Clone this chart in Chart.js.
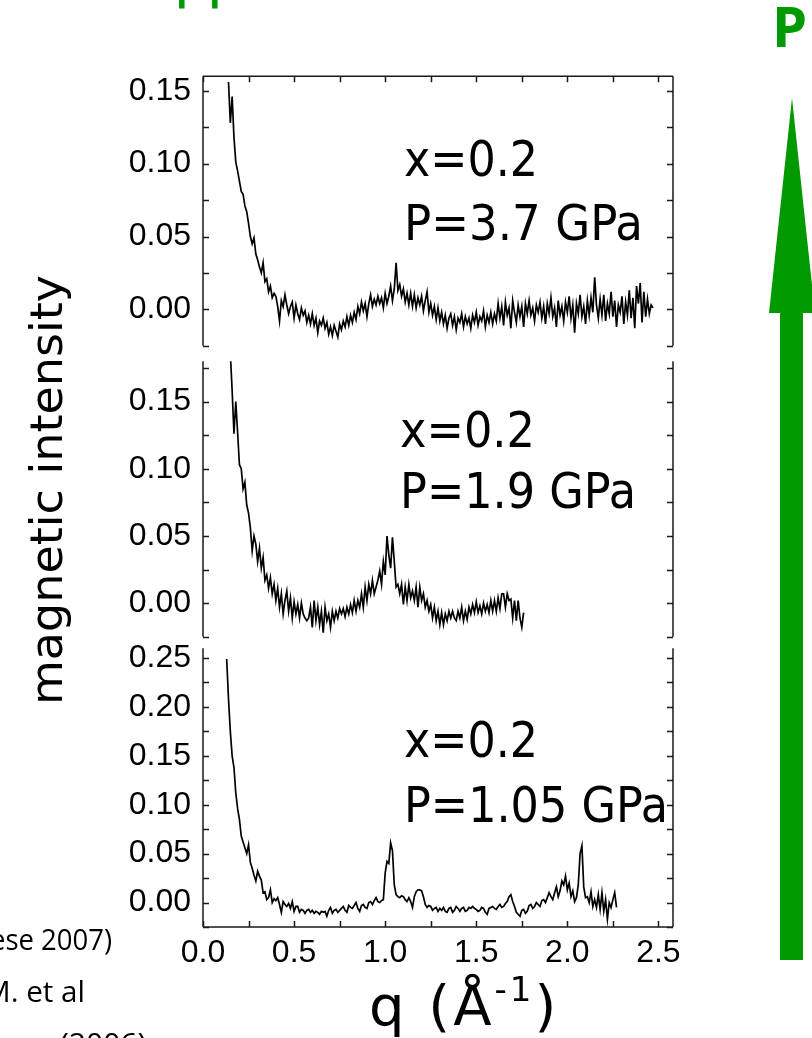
<!DOCTYPE html>
<html>
<head>
<meta charset="utf-8">
<script src="https://cdn.jsdelivr.net/npm/chart.js@4/dist/chart.umd.min.js"></script>
<style>
html, body { margin: 0; padding: 0; background: #fff; }
#page { position: relative; width: 812px; height: 1038px; overflow: hidden; }
#page canvas { position: absolute; left: 0; }
#deco { position: absolute; left: 0; top: 0; }
</style>
</head>
<body>
<div id="page">
<canvas id="p37"></canvas>
<canvas id="p19"></canvas>
<canvas id="p105"></canvas>
<svg id="deco" width="812" height="1038" viewBox="0 0 812 1038">
  <g font-family="DejaVu Sans, sans-serif" fill="#000">
    <text x="404" y="176" font-size="50" textLength="134" lengthAdjust="spacingAndGlyphs">x=0.2</text>
    <text x="404" y="240" font-size="50" textLength="239" lengthAdjust="spacingAndGlyphs">P=3.7 GPa</text>
    <text x="400" y="447" font-size="50" textLength="135" lengthAdjust="spacingAndGlyphs">x=0.2</text>
    <text x="400" y="508" font-size="50" textLength="236" lengthAdjust="spacingAndGlyphs">P=1.9 GPa</text>
    <text x="404" y="757" font-size="50" textLength="134" lengthAdjust="spacingAndGlyphs">x=0.2</text>
    <text x="404" y="822" font-size="50" textLength="264" lengthAdjust="spacingAndGlyphs">P=1.05 GPa</text>
    <text transform="translate(62,490) rotate(-90)" text-anchor="middle" font-size="44" textLength="430" lengthAdjust="spacingAndGlyphs">magnetic intensity</text>
    <text x="369" y="1025" font-size="56" letter-spacing="3">q (Å<tspan font-size="34" dy="-24">-1</tspan><tspan dy="24">)</tspan></text>
  </g>
  <g font-family="Open Sans, sans-serif" fill="#000" font-size="30">
    <text x="-10" y="950" textLength="122" lengthAdjust="spacingAndGlyphs">ese 2007)</text>
    <text x="-16" y="1002" textLength="101" lengthAdjust="spacingAndGlyphs">M. et al</text>
    <text x="60" y="1054">(2006)</text>
  </g>
  <g fill="#009a00" font-family="Open Sans, sans-serif">
    <text x="175" y="-5" font-size="54" stroke="#009a00" stroke-width="1">pp</text>
    <text x="772" y="47" font-size="56" font-weight="bold">P</text>
    <polygon points="792,98 815,313 803,313 803,960 780,960 780,313 769,313"/>
  </g>
</svg>
</div>
<script>
// q grid (1/Å), shared by all three scans
const q = [
  0.13, 0.14, 0.15, 0.16, 0.17, 0.18, 0.19, 0.20, 0.21, 0.22,
  0.23, 0.24, 0.25, 0.26, 0.27, 0.28, 0.29, 0.30, 0.31, 0.32,
  0.33, 0.34, 0.35, 0.36, 0.37, 0.38, 0.39, 0.40, 0.41, 0.42,
  0.43, 0.44, 0.45, 0.46, 0.47, 0.48, 0.49, 0.50, 0.51, 0.52,
  0.53, 0.54, 0.55, 0.56, 0.57, 0.58, 0.59, 0.60, 0.61, 0.62,
  0.63, 0.64, 0.65, 0.66, 0.67, 0.68, 0.69, 0.70, 0.71, 0.72,
  0.73, 0.74, 0.75, 0.76, 0.77, 0.78, 0.79, 0.80, 0.81, 0.82,
  0.83, 0.84, 0.85, 0.86, 0.87, 0.88, 0.89, 0.90, 0.91, 0.92,
  0.93, 0.94, 0.95, 0.96, 0.97, 0.98, 0.99, 1.00, 1.01, 1.02,
  1.03, 1.04, 1.05, 1.06, 1.07, 1.08, 1.09, 1.10, 1.11, 1.12,
  1.13, 1.14, 1.15, 1.16, 1.17, 1.18, 1.19, 1.20, 1.21, 1.22,
  1.23, 1.24, 1.25, 1.26, 1.27, 1.28, 1.29, 1.30, 1.31, 1.32,
  1.33, 1.34, 1.35, 1.36, 1.37, 1.38, 1.39, 1.40, 1.41, 1.42,
  1.43, 1.44, 1.45, 1.46, 1.47, 1.48, 1.49, 1.50, 1.51, 1.52,
  1.53, 1.54, 1.55, 1.56, 1.57, 1.58, 1.59, 1.60, 1.61, 1.62,
  1.63, 1.64, 1.65, 1.66, 1.67, 1.68, 1.69, 1.70, 1.71, 1.72,
  1.73, 1.74, 1.75, 1.76, 1.77, 1.78, 1.79, 1.80, 1.81, 1.82,
  1.83, 1.84, 1.85, 1.86, 1.87, 1.88, 1.89, 1.90, 1.91, 1.92,
  1.93, 1.94, 1.95, 1.96, 1.97, 1.98, 1.99, 2.00, 2.01, 2.02,
  2.03, 2.04, 2.05, 2.06, 2.07, 2.08, 2.09, 2.10, 2.11, 2.12,
  2.13, 2.14, 2.15, 2.16, 2.17, 2.18, 2.19, 2.20, 2.21, 2.22,
  2.23, 2.24, 2.25, 2.26, 2.27, 2.28, 2.29, 2.30, 2.31, 2.32,
  2.33, 2.34, 2.35, 2.36, 2.37, 2.38, 2.39, 2.40, 2.41, 2.42,
  2.43, 2.44, 2.45, 2.46, 2.47
];

// magnetic intensity, x=0.2, P=3.7 GPa
const int37 = [
  null, 0.156, 0.128, 0.146, 0.118, 0.101, 0.095, 0.088, 0.081, 0.079,
  0.071, 0.067, 0.059, 0.050, 0.045, 0.049, 0.038, 0.034, 0.029, 0.025,
  0.032, 0.019, 0.021, 0.012, 0.016, 0.008, 0.011, 0.009, 0.002, -0.008,
  0.006, 0.002, 0.010, 0.003, -0.003, 0.002, 0.005, -0.006, 0.003, -0.003,
  -0.007, 0.001, -0.004, -0.001, -0.009, -0.004, -0.010, -0.003, -0.011, -0.006,
  -0.016, -0.008, -0.011, -0.006, -0.013, -0.009, -0.017, -0.012, -0.018, -0.011,
  -0.015, -0.019, -0.010, -0.014, -0.008, -0.012, -0.005, -0.011, -0.004, -0.009,
  -0.002, -0.007, 0.002, -0.003, 0.005, -0.001, 0.004, -0.005, 0.004, 0.010,
  0.002, 0.007, 0.003, 0.009, 0.004, 0.008, 0.001, 0.011, 0.004, 0.009,
  0.016, 0.006, 0.014, 0.032, 0.013, 0.017, 0.009, 0.014, 0.005, 0.011,
  0.003, 0.011, 0.002, 0.010, 0.001, 0.008, 0.003, 0.009, -0.001, 0.006,
  0.012, -0.002, 0.004, -0.004, 0.002, -0.007, 0.001, -0.008, -0.002, -0.010,
  -0.004, -0.013, -0.006, -0.003, -0.011, -0.005, -0.014, -0.006, -0.009, -0.003,
  -0.012, -0.005, -0.010, -0.006, -0.013, -0.004, -0.009, -0.002, -0.011, -0.005,
  -0.008, -0.001, -0.012, -0.004, -0.009, -0.002, -0.010, -0.003, -0.008, 0.004,
  -0.006, 0.002, -0.011, 0.005, -0.004, 0.001, -0.013, 0.006, -0.002, -0.009,
  0.003, -0.005, 0.002, -0.012, 0.004, -0.003, 0.006, -0.004, 0.001, -0.008,
  0.003, -0.002, 0.005, -0.006, 0.002, -0.010, 0.004, -0.003, 0.008, -0.005,
  0.001, -0.012, 0.006, -0.004, 0.002, -0.008, 0.005, -0.002, 0.009, -0.006,
  0.003, -0.016, 0.004, -0.003, 0.010, -0.005, 0.002, -0.010, 0.006, -0.004,
  0.008, -0.002, 0.022, 0.003, -0.006, 0.007, -0.004, 0.010, -0.008, 0.004,
  -0.003, 0.012, -0.005, 0.006, -0.012, 0.003, -0.002, 0.009, -0.010, 0.005,
  -0.004, 0.013, -0.006, 0.008, -0.013, 0.016, 0.004, 0.018, -0.009, 0.012,
  -0.005, 0.007, -0.003, 0.003, 0.001
];

// magnetic intensity, x=0.2, P=1.9 GPa
const int19 = [
  null, null, 0.186, 0.158, 0.126, 0.150, 0.127, 0.103, 0.100, 0.085,
  0.090, 0.073, 0.067, 0.056, 0.039, 0.050, 0.044, 0.031, 0.041, 0.026,
  0.034, 0.017, 0.021, 0.011, 0.019, 0.007, 0.014, 0.002, 0.011, -0.003,
  0.007, -0.008, 0.002, 0.009, -0.006, 0.004, -0.011, 0.001, -0.008, -0.001,
  -0.011, 0.000, -0.008, -0.011, -0.013, -0.011, -0.003, -0.018, 0.002, -0.013,
  -0.003, -0.016, -0.006, -0.022, -0.003, -0.013, -0.008, -0.018, -0.006, -0.013,
  -0.006, -0.011, -0.004, -0.008, -0.004, -0.010, -0.003, -0.008, -0.001, -0.007,
  0.002, -0.006, 0.002, -0.003, 0.007, -0.003, 0.012, 0.002, 0.014, 0.007,
  0.017, 0.007, 0.012, 0.017, 0.024, 0.014, 0.031, 0.021, 0.050, 0.036,
  0.026, 0.049, 0.031, 0.012, 0.014, 0.007, 0.014, -0.001, 0.012, 0.002,
  0.014, 0.004, 0.009, 0.002, 0.012, -0.003, 0.012, 0.002, 0.007, -0.003,
  0.002, -0.006, -0.001, -0.011, -0.003, -0.013, -0.006, -0.016, -0.007, -0.016,
  -0.008, -0.013, -0.006, -0.011, -0.006, -0.011, -0.013, -0.006, -0.011, -0.003,
  -0.013, -0.006, -0.012, -0.003, -0.008, -0.001, -0.007, 0.001, -0.007, -0.002,
  -0.008, 0.000, -0.006, -0.001, -0.007, 0.002, -0.006, 0.002, -0.006, 0.004,
  -0.004, 0.007, 0.007, -0.003, 0.007, 0.002, 0.003, -0.011, 0.002, -0.013,
  0.002, -0.011, -0.018, -0.007
];

// magnetic intensity, x=0.2, P=1.05 GPa
const int105 = [
  0.249, 0.208, 0.175, 0.150, 0.138, 0.112, 0.096, 0.085, 0.068, 0.062,
  0.056, 0.050, 0.059, 0.041, 0.035, 0.028, 0.022, 0.032, 0.027, 0.023,
  0.010, 0.011, 0.003, 0.005, 0.013, 0.000, 0.004, 0.002, 0.005, -0.002,
  -0.010, 0.001, -0.002, -0.004, -0.001, -0.006, 0.001, -0.009, -0.004, -0.004,
  -0.010, -0.007, -0.008, -0.011, -0.008, -0.007, -0.010, -0.008, -0.011, -0.009,
  -0.010, -0.012, -0.009, -0.010, -0.009, -0.014, -0.008, -0.005, -0.011, -0.008,
  -0.007, -0.010, -0.008, -0.006, -0.004, -0.008, -0.010, -0.003, -0.005, -0.006,
  -0.003, 0.000, -0.006, -0.009, -0.003, -0.002, -0.005, -0.006, 0.000, 0.001,
  -0.002, 0.002, 0.005, 0.001, 0.000, 0.002, 0.003, 0.030, 0.042, 0.040,
  0.061, 0.053, 0.018, 0.008, 0.006, 0.005, 0.007, 0.006, 0.003, 0.001,
  0.005, 0.001, -0.005, 0.006, 0.011, 0.013, 0.013, 0.012, 0.006, -0.002,
  -0.005, -0.003, -0.004, -0.008, -0.006, -0.005, -0.009, -0.006, -0.008, -0.005,
  -0.009, -0.010, -0.006, -0.005, -0.010, -0.008, -0.004, -0.006, -0.009, -0.006,
  -0.005, -0.009, -0.008, -0.005, -0.006, -0.004, -0.006, -0.007, -0.009, -0.008,
  -0.005, -0.006, -0.010, -0.012, -0.006, -0.005, -0.004, -0.006, -0.007, -0.004,
  -0.002, -0.005, -0.004, -0.001, 0.001, 0.006, 0.008, 0.001, -0.004, -0.010,
  -0.012, -0.014, -0.008, -0.007, -0.011, -0.009, -0.003, -0.002, -0.006, -0.004,
  0.000, -0.002, -0.004, 0.002, 0.003, 0.000, 0.005, 0.010, 0.006, 0.003,
  0.010, 0.016, 0.006, 0.012, 0.022, 0.018, 0.027, 0.013, 0.020, 0.006,
  0.012, 0.001, 0.005, 0.018, 0.050, 0.058, 0.016, 0.005, 0.006, 0.000,
  0.011, -0.004, 0.003, -0.005, 0.008, -0.007, 0.010, -0.009, 0.003, -0.017,
  0.000, -0.005, 0.003, 0.010, -0.005
];

const tickFont = { family: "'Liberation Sans', Arial, sans-serif", size: 32 };

// label only every n-th step, the rest stay as bare tick marks
function everyOther(step, digits) {
  return function (value) {
    if (Math.abs(value) < 1e-9) value = 0;
    const r = value / step;
    return Math.abs(r - Math.round(r)) < 1e-6 ? value.toFixed(digits) : "";
  };
}

// Origin-style frame: side lines on every panel, inward ticks
const framePlugin = {
  id: "frame",
  afterDraw(chart, args, opts) {
    const { ctx, chartArea: a, scales } = chart;
    const x = scales.x, y = scales.y;
    const len = 6;
    ctx.save();
    ctx.strokeStyle = "#1a1a1a";
    ctx.lineWidth = 1.5;
    ctx.beginPath();
    ctx.moveTo(a.left, a.top); ctx.lineTo(a.left, a.bottom);
    ctx.moveTo(a.right, a.top); ctx.lineTo(a.right, a.bottom);
    if (opts.top) { ctx.moveTo(a.left, a.top); ctx.lineTo(a.right, a.top); }
    if (opts.bottom) { ctx.moveTo(a.left, a.bottom); ctx.lineTo(a.right, a.bottom); }
    y.ticks.forEach((t) => {
      const py = Math.round(y.getPixelForValue(t.value)) + 0.5;
      ctx.moveTo(a.left, py); ctx.lineTo(a.left + len, py);
      ctx.moveTo(a.right, py); ctx.lineTo(a.right - len, py);
    });
    x.ticks.forEach((t) => {
      const px = Math.round(x.getPixelForValue(t.value)) + 0.5;
      if (opts.top) { ctx.moveTo(px, a.top); ctx.lineTo(px, a.top + len); }
      if (opts.bottom) { ctx.moveTo(px, a.bottom); ctx.lineTo(px, a.bottom - len); }
    });
    ctx.stroke();
    ctx.restore();
  }
};

function makePanel(id, top, height, pad, yMin, yMax, values, edges) {
  const cv = document.getElementById(id);
  cv.width = 812;
  cv.height = height;
  cv.style.top = top + "px";

  const points = [];
  values.forEach((v, i) => {
    if (v !== null) points.push({ x: q[i], y: v });
  });

  return new Chart(cv, {
    type: "line",
    data: {
      datasets: [{
        data: points,
        borderColor: "#000",
        borderWidth: 1.7,
        pointRadius: 0,
        tension: 0,
        fill: false
      }]
    },
    options: {
      responsive: false,
      animation: false,
      events: [],
      layout: { padding: { left: 0, right: 139, top: pad[0], bottom: pad[1] } },
      plugins: {
        legend: { display: false },
        tooltip: { enabled: false },
        frame: edges
      },
      scales: {
        x: {
          type: "linear",
          min: 0,
          max: 2.58,
          display: edges.bottom,
          grid: { display: false, drawTicks: false },
          border: { display: false },
          ticks: {
            stepSize: 0.25,
            includeBounds: false,
            autoSkip: false,
            maxRotation: 0,
            padding: 7,
            color: "#000",
            font: tickFont,
            callback: everyOther(0.5, 1)
          },
          afterFit: (s) => { s.height = edges.bottom ? 48 : 0; }
        },
        y: {
          type: "linear",
          min: yMin,
          max: yMax,
          grid: { display: false, drawTicks: false },
          border: { display: false },
          ticks: {
            stepSize: 0.025,
            includeBounds: false,
            autoSkip: false,
            padding: 12,
            color: "#000",
            font: tickFont,
            callback: everyOther(0.05, 2)
          },
          afterFit: (s) => { s.width = 203; }
        }
      }
    },
    plugins: [framePlugin]
  });
}

// chart areas: 75-347, 360-638, 647-927
makePanel("p37", 45, 332, [30, 30], -0.025, 0.16, int37, { top: true, bottom: false });
makePanel("p19", 330, 338, [30, 30], -0.025, 0.18, int19, { top: false, bottom: false });
makePanel("p105", 617, 360, [30, 2], -0.025, 0.26, int105, { top: false, bottom: true });
</script>
</body>
</html>
